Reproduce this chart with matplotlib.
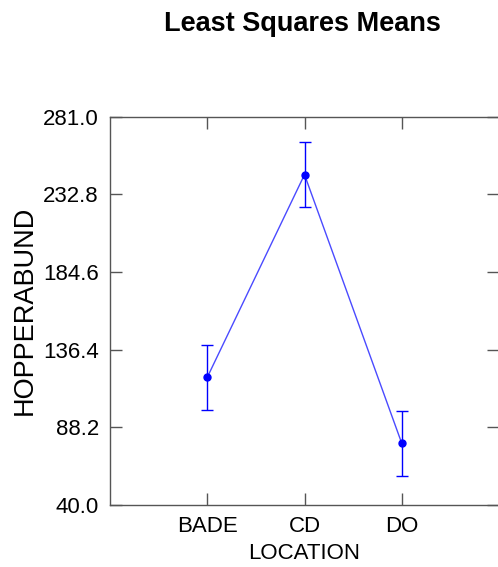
import matplotlib
matplotlib.use("Agg")
import matplotlib.pyplot as plt

# data
locations = ["BADE", "CD", "DO"]
means = [119.2, 245.0, 78.3]
errors = [20.3, 20.2, 20.1]
y_ticks = [40.0, 88.2, 136.4, 184.6, 232.8, 281.0]

plt.rcParams["font.family"] = ["Liberation Sans", "DejaVu Sans"]

fig = plt.figure(figsize=(4.98, 5.67), dpi=100)
ax = fig.add_axes([110 / 498, 62 / 567, 389 / 498, 388.4 / 567])

x = list(range(1, len(locations) + 1))
ax.plot(x, means, color="#4a4aff", lw=1.0, zorder=2)
ax.errorbar(x, means, yerr=errors, fmt="o", color="#0000ff", ms=5,
            elinewidth=1.0, capsize=4, capthick=1.0, zorder=3)

ax.set_xlim(0, 4)
ax.set_ylim(40.0, 281.0)
ax.set_xticks(x)
ax.set_xticklabels(locations)
ax.set_yticks(y_ticks)
ax.set_yticklabels(["%.1f" % v for v in y_ticks])

for s in ax.spines.values():
    s.set_color("#555555")
    s.set_linewidth(1.0)
ax.tick_params(direction="in", length=8.5, width=1.0, color="#555555",
               top=True, right=True, labelsize=16, pad=8)

ax.set_xlabel("LOCATION", fontsize=16, labelpad=4)
ax.set_ylabel("HOPPERABUND", fontsize=19.5, labelpad=4)

fig.text(302 / 498, 1 - 24 / 567, "Least Squares Means", ha="center",
         va="center", fontsize=19.5, fontweight="bold")

fig.savefig("out.png", dpi=100)
